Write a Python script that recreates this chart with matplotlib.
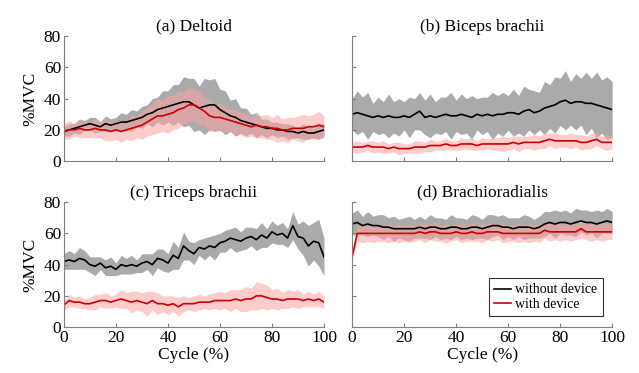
import matplotlib
matplotlib.use('Agg')
import matplotlib.pyplot as plt
import numpy as np

plt.rcParams['font.family'] = ['Liberation Serif', 'DejaVu Serif']
plt.rcParams['font.size'] = 12.5

# cycle positions (%)
cycle = list(range(0, 101, 2))

titles = ['(a) Deltoid', '(b) Biceps brachii', '(c) Triceps brachii', '(d) Brachioradialis']
legend_labels = ['without device', 'with device']

# (a) Deltoid
a_without = [19,20,21,22,23,24,23,22,24,23,24,25,25,26,27,28,30,31,33,34,35,36,37,38,38,
             36,34,35,36,36,33,31,29,28,26,25,24,23,22,21,21,20,20,19,19,18,19,18,18,19,20]
a_without_sd = [3,4,3,5,3,4,5,3,5,4,4,6,5,7,5,7,6,9,8,11,10,13,12,16,15,17,14,18,16,17,
                13,14,10,12,8,9,6,8,5,6,4,5,4,5,4,3,5,4,3,5,4]
a_with = [19,20,20,21,20,20,21,20,20,19,20,19,20,21,22,23,25,27,29,29,30,31,33,34,36,
          36,34,32,29,28,28,27,26,25,24,23,22,23,22,22,21,21,20,20,21,21,21,22,22,23,22]
a_with_sd = [5,6,4,6,5,5,6,5,7,6,6,7,6,8,7,9,9,10,11,10,12,11,12,10,11,10,11,9,10,8,
             9,8,7,8,7,8,6,8,7,8,7,9,7,8,7,8,9,7,8,9,7]

# (b) Biceps brachii
b_without = [30,31,30,29,28,29,28,29,28,28,29,28,30,32,28,29,28,29,30,29,29,30,29,28,30,
             29,30,29,30,30,31,31,30,32,33,31,32,34,35,36,38,39,37,38,38,37,37,36,35,34,33]
b_without_sd = [10,14,11,15,9,12,10,14,10,12,9,13,10,12,11,14,10,12,11,15,10,13,11,14,10,
                12,11,15,12,14,11,15,12,16,13,14,12,17,14,18,15,19,14,18,15,20,16,21,17,20,18]
b_with = [9,9,9,10,9,9,9,8,9,8,8,8,9,9,9,10,10,10,11,10,10,11,11,11,10,
          11,11,11,11,11,11,12,11,12,12,12,12,13,14,13,13,13,13,13,12,12,13,14,12,12,12]
b_with_sd = [3,4,3,3,4,3,4,3,3,4,3,3,4,4,3,4,3,3,4,3,3,4,3,4,3,
             4,3,4,4,5,4,4,5,4,4,5,4,5,4,5,4,4,5,4,5,4,5,4,4,5,4]

# (c) Triceps brachii
c_without = [42,43,42,44,43,40,39,41,38,39,37,40,39,40,39,41,42,40,44,43,41,46,44,52,49,
             47,51,50,52,51,54,55,57,56,55,57,58,56,59,57,61,59,60,57,65,58,57,52,55,54,45]
c_without_sd = [5,6,5,7,6,5,6,4,5,6,4,6,5,6,4,6,5,7,6,7,6,9,7,9,6,
                7,5,7,6,8,6,7,6,8,6,7,6,7,8,6,7,6,7,6,9,8,11,13,12,15,12]
c_with = [14,17,16,16,15,15,16,17,17,16,17,18,17,16,17,16,15,17,15,15,14,15,13,15,15,
          15,16,16,16,17,17,17,17,18,17,18,18,20,20,19,18,18,17,18,18,18,17,18,17,18,16]
c_with_sd = [3,4,3,4,3,4,5,4,5,4,4,6,5,7,6,6,8,6,7,5,6,5,6,5,4,
             5,5,4,5,5,6,5,7,6,7,8,7,9,8,8,6,7,5,6,5,6,4,5,4,5,4]

# (d) Brachioradialis
d_without = [66,67,65,66,65,65,64,64,63,63,63,63,63,64,63,64,64,63,63,64,64,63,63,64,64,
             63,64,65,65,64,64,63,64,64,64,63,64,66,67,66,67,67,66,67,68,67,67,66,67,68,67]
d_without_sd = [7,8,6,8,6,7,8,6,8,6,7,8,6,7,6,8,6,7,6,8,6,7,6,8,7,
                6,8,7,6,8,6,7,6,8,7,6,7,8,7,9,7,8,7,9,7,8,7,9,7,8,7]
d_with = [45,60,60,60,60,60,60,60,60,60,60,60,60,61,60,61,61,60,60,60,61,60,60,61,60,
          60,61,61,61,60,60,60,60,60,60,60,60,62,61,61,61,61,61,61,63,61,61,61,61,61,61]
d_with_sd = [3,5,6,5,6,5,5,6,5,6,5,6,5,5,6,5,6,5,6,5,5,6,5,6,5,
             6,5,6,5,6,5,5,6,5,6,5,6,5,6,5,6,5,6,5,6,5,6,5,6,5,5]

panels = [
    (a_without, a_without_sd, a_with, a_with_sd),
    (b_without, b_without_sd, b_with, b_with_sd),
    (c_without, c_without_sd, c_with, c_with_sd),
    (d_without, d_without_sd, d_with, d_with_sd),
]

fig = plt.figure(figsize=(6.39, 3.73), dpi=100)
pos = [(0.100, 0.568), (0.551, 0.568), (0.100, 0.123), (0.551, 0.123)]
w, h = 0.407, 0.335

x = np.array(cycle)
for i, (m0, s0, m1, s1) in enumerate(panels):
    ax = fig.add_axes([pos[i][0], pos[i][1], w, h])
    m0, s0, m1, s1 = map(np.array, (m0, s0, m1, s1))
    ax.fill_between(x, m0 - s0, m0 + s0, color='#aaaaaa', lw=0)
    l0, = ax.plot(x, m0, color='black', lw=1.2, label=legend_labels[0])
    ax.fill_between(x, m1 - s1, m1 + s1, color=(1, 0.64, 0.64), alpha=0.55, lw=0)
    l1, = ax.plot(x, m1, color='#cc0000', lw=1.2, label=legend_labels[1])

    ax.set_xlim(0, 100)
    ax.set_ylim(0, 80)
    ax.set_xticks(range(0, 101, 20))
    ax.set_yticks(range(0, 81, 20))
    ax.spines['top'].set_visible(False)
    ax.spines['right'].set_visible(False)
    for s in ('left', 'bottom'):
        ax.spines[s].set_color('#808080')
        ax.spines[s].set_linewidth(0.8)
    ax.tick_params(direction='in', length=3, color='#808080', labelsize=12.5, pad=2)
    ax.set_title(titles[i], fontsize=12.5, pad=4)

    if i < 2:
        ax.set_xticklabels([])
    else:
        ax.set_xlabel('Cycle (%)', fontsize=12.5, labelpad=1)
    if i % 2 == 1:
        ax.set_yticklabels([])
    else:
        ax.set_ylabel('%MVC', fontsize=12.5, labelpad=4)

    if i == 3:
        leg = ax.legend(handles=[l0, l1], loc='lower right', fontsize=10,
                        frameon=True, fancybox=False, handlelength=1.2,
                        handletextpad=0.3, borderpad=0.4, labelspacing=0.1,
                        bbox_to_anchor=(0.99, 0.03))
        leg.get_frame().set_edgecolor('black')
        leg.get_frame().set_linewidth(0.8)

fig.savefig('out.png', dpi=100)
